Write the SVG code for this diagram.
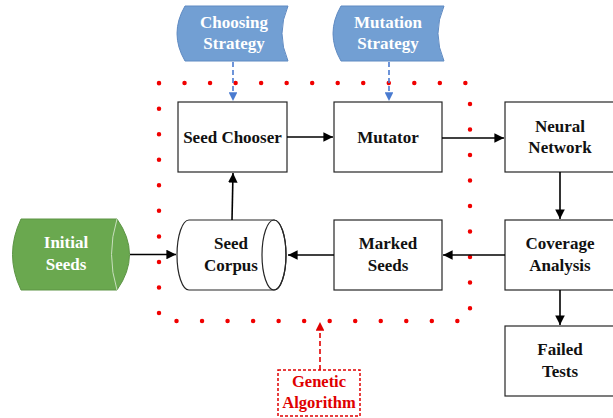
<svg xmlns="http://www.w3.org/2000/svg" width="613" height="418" viewBox="0 0 613 418">
<style>
.box{fill:#fff;stroke:#262626;stroke-width:1.2}
.t{font-family:'Liberation Serif','Times New Roman',Times,serif;font-weight:700;font-size:17px;text-anchor:middle;fill:#111}
.w{fill:#fff}
.r{fill:#e00000;font-size:16.5px}
.ar{stroke:#000;stroke-width:1.6;fill:none;marker-end:url(#ah)}
.db{stroke:#4a7bd0;stroke-width:1.6;fill:none;stroke-dasharray:5 3;marker-end:url(#ab)}
</style>
<defs>
<marker id="ah" viewBox="0 0 10 10" refX="10" refY="5" markerWidth="6" markerHeight="6" markerUnits="strokeWidth" orient="auto"><path d="M0,0 L10,5 L0,10 Z" fill="#000"/></marker>
<marker id="ab" viewBox="0 0 10 10" refX="10" refY="5" markerWidth="5.5" markerHeight="5.5" markerUnits="strokeWidth" orient="auto"><path d="M0,0 L10,5 L0,10 Z" fill="#4a7bd0"/></marker>
<marker id="ar" viewBox="0 0 10 10" refX="10" refY="5" markerWidth="5.5" markerHeight="5.5" markerUnits="strokeWidth" orient="auto"><path d="M0,0 L10,5 L0,10 Z" fill="#e00000"/></marker>
</defs>

<rect x="159" y="83" width="311" height="238" fill="none" stroke="#f00000" stroke-width="4.5" stroke-linecap="round" stroke-dasharray="0 25.53"/>

<g id="choosing-strategy">
<path d="M185,6 L288,6 Q276,33.5 288,61 L185,61 Q169,33.5 185,6 Z" fill="#729fd3" stroke="#5f8ac2" stroke-width="1"/>
<text class="t w" x="234" y="28">Choosing</text>
<text class="t w" x="234" y="49">Strategy</text>
</g>
<g id="mutation-strategy">
<path d="M341,6 L444,6 Q432,33.5 444,61 L341,61 Q325,33.5 341,6 Z" fill="#729fd3" stroke="#5f8ac2" stroke-width="1"/>
<text class="t w" x="388" y="28">Mutation</text>
<text class="t w" x="388" y="49">Strategy</text>
</g>
<g id="seed-chooser">
<rect class="box" x="178" y="102" width="109" height="70"/>
<text class="t" x="232.5" y="143">Seed Chooser</text>
</g>
<g id="mutator">
<rect class="box" x="334" y="102" width="108" height="70"/>
<text class="t" x="388" y="143">Mutator</text>
</g>
<g id="neural-network">
<rect class="box" x="505" y="102" width="115" height="70"/>
<text class="t" x="560" y="132">Neural</text>
<text class="t" x="560" y="153">Network</text>
</g>
<g id="coverage-analysis">
<rect class="box" x="505" y="220" width="115" height="70"/>
<text class="t" x="560" y="249">Coverage</text>
<text class="t" x="560" y="271">Analysis</text>
</g>
<g id="failed-tests">
<rect class="box" x="505" y="326" width="115" height="70"/>
<text class="t" x="560" y="355">Failed</text>
<text class="t" x="560" y="377">Tests</text>
</g>
<g id="marked-seeds">
<rect class="box" x="334" y="220" width="108" height="70"/>
<text class="t" x="388" y="249">Marked</text>
<text class="t" x="388" y="271">Seeds</text>
</g>
<g id="seed-corpus">
<path class="box" d="M189,220 L274,220 A12,35 0 0 1 274,290 L189,290 A12,35 0 0 1 189,220 Z"/>
<ellipse cx="274" cy="255" rx="12" ry="35" fill="none" stroke="#262626" stroke-width="1.2"/>
<text class="t" x="231" y="249">Seed</text>
<text class="t" x="231" y="271">Corpus</text>
</g>
<g id="initial-seeds">
<path d="M21,219 L117,219 Q142,254.5 117,290 L21,290 Q4,254.5 21,219 Z" fill="#6aa84f" stroke="#5c9444" stroke-width="1"/>
<path d="M117,219 Q106,254.5 117,290" fill="none" stroke="#c8dfbd" stroke-width="1"/>
<text class="t w" x="66" y="248">Initial</text>
<text class="t w" x="66" y="270">Seeds</text>
</g>
<g id="genetic-algorithm">
<rect x="278" y="370" width="82" height="46" fill="none" stroke="#e00000" stroke-width="1.5" stroke-dasharray="3 2"/>
<text class="t r" x="319" y="387">Genetic</text>
<text class="t r" x="319" y="408">Algorithm</text>
</g>

<g id="connectors">
<path class="db" d="M233,62 L233,101"/>
<path class="db" d="M389,62 L389,101"/>
<path class="ar" d="M287,137 L333,137"/>
<path class="ar" d="M442,138 L504,138"/>
<path class="ar" d="M560,172 L560,219"/>
<path class="ar" d="M560,290 L560,325"/>
<path class="ar" d="M505,255 L443,255"/>
<path class="ar" d="M334,255 L288,255"/>
<path class="ar" d="M232,220 L233,173"/>
<path class="ar" d="M130,254.5 L176,254.5"/>
<path d="M320,370 L320,322" fill="none" stroke="#e00000" stroke-width="1.6" stroke-dasharray="5 3" marker-end="url(#ar)"/>
</g>
</svg>
